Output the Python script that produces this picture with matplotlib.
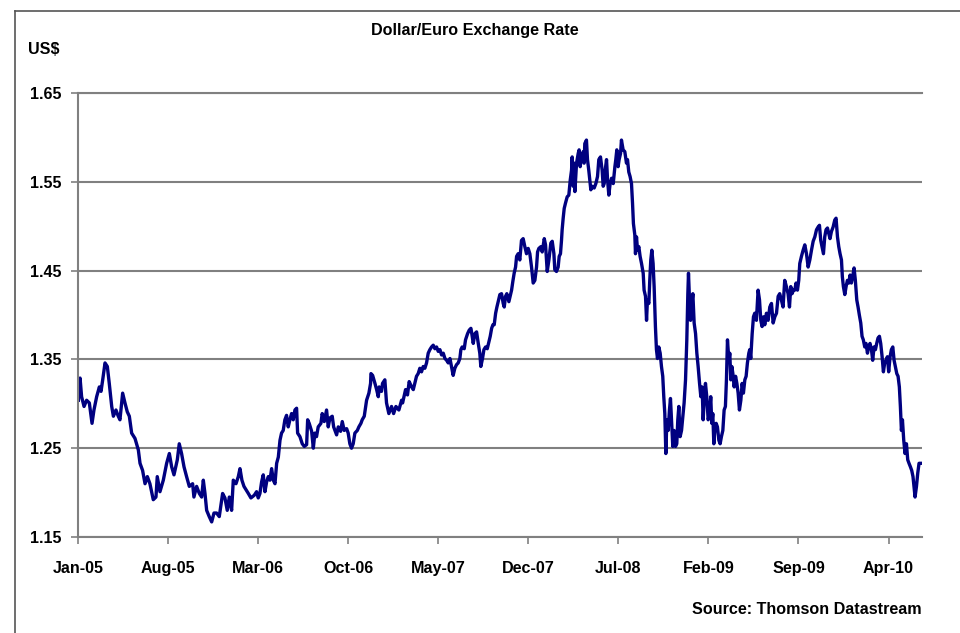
import numpy as np
import matplotlib
matplotlib.use('Agg')
import matplotlib.pyplot as plt
from matplotlib.lines import Line2D

# months since Jan 2005
months = [
    0.03, 0.16, 0.28, 0.47, 0.67, 0.88, 1.09, 1.24, 1.45, 1.66, 1.79, 1.92, 2.10, 2.28, 2.43, 2.62,
    2.75, 2.95, 3.13, 3.26, 3.47, 3.65, 3.83, 3.99, 4.17, 4.43, 4.69, 4.82, 5.02, 5.21, 5.39, 5.59,
    5.85, 6.06, 6.16, 6.37, 6.63, 6.89, 7.10, 7.28, 7.46, 7.72, 7.87, 8.05, 8.24, 8.44, 8.65, 8.91,
    9.01, 9.22, 9.43, 9.61, 9.74, 9.87, 10.00, 10.20, 10.39, 10.57, 10.77, 10.98, 11.24, 11.42, 11.60,
    11.76, 11.94, 12.07, 12.28, 12.46, 12.59, 12.74, 12.90,
    13.24, 13.44, 13.70, 13.88, 14.01, 14.14, 14.27, 14.40, 14.53, 14.66, 14.79, 14.92, 15.05, 15.18,
    15.31, 15.44, 15.57, 15.70, 15.82, 15.95, 16.08, 16.21, 16.34, 16.47, 16.60, 16.73, 16.86, 16.99,
    17.07, 17.25, 17.43, 17.59, 17.77, 17.85, 17.97, 18.16, 18.29, 18.41, 18.54, 18.67, 18.88, 18.98,
    19.14, 19.32, 19.45, 19.58, 19.76, 19.87, 20.10, 20.23, 20.41, 20.54, 20.69, 20.88, 21.00, 21.13,
    21.26, 21.39, 21.52, 21.71, 21.83, 21.99, 22.09, 22.25, 22.43, 22.61, 22.74, 22.77, 22.90, 23.08,
    23.21, 23.34, 23.41, 23.59, 23.67, 23.85, 23.98, 24.16, 24.37, 24.53, 24.71, 24.94, 25.15, 25.23,
    25.46, 25.61, 25.74, 25.93, 26.06,
    26.18, 26.31, 26.44, 26.57, 26.70, 26.83, 26.96, 27.09, 27.22, 27.35, 27.48, 27.61, 27.74, 27.87,
    28.00, 28.13, 28.26, 28.39, 28.52, 28.65, 28.78, 28.91, 29.03, 29.16, 29.29, 29.42, 29.55, 29.68,
    29.76, 29.86, 30.02, 30.12, 30.28, 30.41, 30.54, 30.64, 30.72, 30.85, 30.98, 31.11, 31.23, 31.31,
    31.44, 31.55, 31.68, 31.81, 31.94, 32.04, 32.15, 32.25, 32.35, 32.46, 32.56, 32.66, 32.79, 32.92,
    33.05, 33.13, 33.23, 33.33, 33.49, 33.62, 33.70, 33.80, 33.90, 34.01, 34.09, 34.21, 34.34, 34.47,
    34.60, 34.73, 34.86, 34.99, 35.12, 35.25, 35.38, 35.51, 35.64, 35.72, 35.82, 35.98, 36.08, 36.24,
    36.34, 36.47, 36.60, 36.75, 36.86, 36.99, 37.06, 37.19, 37.32, 37.40, 37.50, 37.58, 37.63, 37.71,
    37.79, 37.89, 38.02, 38.15, 38.26, 38.36, 38.41, 38.49, 38.57, 38.62, 38.75, 38.88, 38.95, 39.03,
    39.14, 39.27, 39.34,
    39.39, 39.52, 39.60, 39.70, 39.78, 39.86, 39.96, 40.12, 40.25, 40.38, 40.48, 40.61, 40.74, 40.82,
    40.90, 41.01, 41.08, 41.16, 41.26, 41.36, 41.47, 41.60, 41.73, 41.80, 41.88, 41.98, 42.06, 42.17,
    42.24, 42.37, 42.50, 42.63, 42.71, 42.81, 42.91, 43.02, 43.10, 43.17, 43.28, 43.33, 43.41, 43.49,
    43.59, 43.69, 43.80, 43.93, 44.00, 44.11, 44.19, 44.26, 44.37, 44.44, 44.52, 44.60, 44.70, 44.78,
    44.88, 44.96, 45.04, 45.14, 45.25, 45.35, 45.45, 45.53, 45.61, 45.69, 45.77, 45.87, 45.97, 46.05,
    46.13, 46.23, 46.33, 46.44, 46.54, 46.62, 46.70, 46.80, 46.91, 47.01, 47.11, 47.22, 47.32, 47.40,
    47.45, 47.53, 47.61, 47.68, 47.79, 47.89, 48.00, 48.10, 48.20, 48.31, 48.41, 48.51, 48.59, 48.67,
    48.77, 48.87, 48.98, 49.08, 49.18, 49.26, 49.34, 49.42, 49.49, 49.60, 49.70, 49.81, 49.91, 50.01,
    50.12, 50.22, 50.32, 50.40, 50.48, 50.59, 50.66, 50.74, 50.82, 50.90, 51.00, 51.11, 51.21, 51.31,
    51.41, 51.52, 51.62, 51.72, 51.83, 51.93, 52.03, 52.14, 52.21, 52.29, 52.40, 52.50,
    52.60, 52.73, 52.86, 52.97, 53.07, 53.17, 53.28, 53.38, 53.51, 53.64, 53.77, 53.90, 54.03, 54.16,
    54.29, 54.42, 54.54, 54.67, 54.80, 54.93, 55.06, 55.19, 55.30, 55.40, 55.50, 55.61, 55.71, 55.81,
    55.92, 56.02, 56.10, 56.23, 56.36, 56.49, 56.62, 56.75, 56.88, 57.01, 57.14, 57.27, 57.40, 57.52,
    57.63, 57.73, 57.83, 57.94, 58.04, 58.14, 58.25, 58.35, 58.45, 58.56, 58.69, 58.82, 58.92, 59.03,
    59.13, 59.23, 59.34, 59.41, 59.49, 59.60, 59.70, 59.80, 59.91, 60.01, 60.11, 60.21, 60.32, 60.42,
    60.53, 60.63, 60.73, 60.84, 60.94, 61.04, 61.15, 61.25, 61.36, 61.46, 61.56, 61.67, 61.77, 61.87,
    61.98, 62.08, 62.18, 62.29, 62.39, 62.50, 62.60, 62.70, 62.81, 62.91, 63.01, 63.12, 63.22, 63.33,
    63.43, 63.53, 63.64, 63.74, 63.84, 63.92, 64.00, 64.08, 64.18, 64.28, 64.39, 64.49, 64.59, 64.70,
    64.80, 64.90, 64.98, 65.06, 65.17, 65.27, 65.37, 65.47,
]

# US$ per euro
rates = [
    1.304, 1.329, 1.308, 1.297, 1.304, 1.301, 1.278, 1.293, 1.308, 1.319, 1.314, 1.327, 1.346, 1.342, 1.323, 1.297,
    1.286, 1.293, 1.286, 1.282, 1.312, 1.301, 1.291, 1.286, 1.267, 1.261, 1.248, 1.233, 1.225, 1.210, 1.218, 1.210,
    1.192, 1.195, 1.218, 1.201, 1.214, 1.233, 1.244, 1.229, 1.220, 1.237, 1.255, 1.244, 1.229, 1.218, 1.207, 1.210,
    1.195, 1.207, 1.199, 1.195, 1.214, 1.199, 1.180, 1.173, 1.167, 1.177, 1.177, 1.173, 1.199, 1.194, 1.180,
    1.195, 1.180, 1.214, 1.210, 1.218, 1.227, 1.214, 1.207,
    1.199, 1.194, 1.197, 1.201, 1.194, 1.199, 1.212, 1.220, 1.201, 1.212, 1.218, 1.214, 1.227, 1.214,
    1.210, 1.233, 1.240, 1.259, 1.267, 1.270, 1.282, 1.287, 1.274, 1.282, 1.289, 1.282, 1.293, 1.295,
    1.267, 1.263, 1.255, 1.252, 1.254, 1.282, 1.278, 1.269, 1.250, 1.267, 1.263, 1.274, 1.278, 1.289,
    1.280, 1.293, 1.274, 1.284, 1.286, 1.274, 1.265, 1.274, 1.269, 1.280, 1.270, 1.272, 1.267, 1.255,
    1.250, 1.255, 1.267, 1.270, 1.274, 1.278, 1.282, 1.286, 1.304, 1.312, 1.323, 1.334, 1.332, 1.323,
    1.316, 1.308, 1.319, 1.314, 1.323, 1.327, 1.301, 1.289, 1.297, 1.289, 1.297, 1.293, 1.304, 1.301,
    1.316, 1.310, 1.325, 1.319, 1.316,
    1.323, 1.331, 1.334, 1.340, 1.336, 1.342, 1.340, 1.346, 1.357, 1.361, 1.364, 1.366, 1.362, 1.364,
    1.359, 1.361, 1.355, 1.357, 1.351, 1.349, 1.346, 1.351, 1.342, 1.332, 1.340, 1.344, 1.346, 1.351,
    1.361, 1.364, 1.362, 1.372, 1.379, 1.383, 1.385, 1.376, 1.368, 1.379, 1.381, 1.368, 1.357, 1.342,
    1.351, 1.361, 1.364, 1.362, 1.370, 1.376, 1.385, 1.389, 1.389, 1.402, 1.409, 1.415, 1.423, 1.424,
    1.413, 1.409, 1.421, 1.424, 1.415, 1.423, 1.428, 1.438, 1.447, 1.454, 1.466, 1.469, 1.462, 1.484,
    1.486, 1.477, 1.469, 1.475, 1.469, 1.454, 1.436, 1.439, 1.454, 1.471, 1.475, 1.477, 1.471, 1.486,
    1.479, 1.449, 1.462, 1.481, 1.483, 1.469, 1.451, 1.449, 1.454, 1.466, 1.469, 1.484, 1.496, 1.509,
    1.520, 1.526, 1.533, 1.535, 1.552, 1.563, 1.578, 1.545, 1.571, 1.539, 1.571, 1.582, 1.586, 1.567,
    1.578, 1.584, 1.571,
    1.593, 1.597, 1.575, 1.563, 1.552, 1.541, 1.545, 1.543, 1.548, 1.556, 1.575, 1.578, 1.563, 1.545,
    1.548, 1.567, 1.575, 1.552, 1.535, 1.548, 1.554, 1.548, 1.567, 1.575, 1.586, 1.567, 1.575, 1.582,
    1.597, 1.586, 1.584, 1.571, 1.575, 1.561, 1.556, 1.548, 1.526, 1.503, 1.490, 1.469, 1.488, 1.473,
    1.477, 1.466, 1.458, 1.447, 1.428, 1.421, 1.394, 1.417, 1.413, 1.439, 1.462, 1.473, 1.458, 1.432,
    1.387, 1.361, 1.351, 1.364, 1.357, 1.342, 1.331, 1.308, 1.289, 1.244, 1.282, 1.270, 1.293, 1.306,
    1.282, 1.252, 1.270, 1.252, 1.255, 1.282, 1.297, 1.263, 1.270, 1.286, 1.301, 1.327, 1.372, 1.424,
    1.447, 1.417, 1.394, 1.409, 1.424, 1.391, 1.379, 1.357, 1.342, 1.323, 1.308, 1.319, 1.282, 1.304,
    1.323, 1.308, 1.282, 1.289, 1.308, 1.278, 1.289, 1.255, 1.270, 1.278, 1.274, 1.259, 1.255, 1.263,
    1.270, 1.293, 1.297, 1.327, 1.372, 1.349, 1.357, 1.327, 1.342, 1.334, 1.319, 1.331, 1.323, 1.312,
    1.293, 1.304, 1.323, 1.312, 1.327, 1.331, 1.346, 1.357, 1.361, 1.351, 1.379, 1.398,
    1.402, 1.394, 1.428, 1.417, 1.394, 1.387, 1.398, 1.389, 1.402, 1.394, 1.409, 1.413, 1.391, 1.398,
    1.402, 1.421, 1.424, 1.417, 1.409, 1.439, 1.432, 1.424, 1.409, 1.432, 1.424, 1.428, 1.428, 1.436,
    1.428, 1.439, 1.458, 1.466, 1.473, 1.479, 1.469, 1.454, 1.462, 1.473, 1.483, 1.488, 1.496, 1.499,
    1.501, 1.484, 1.477, 1.469, 1.488, 1.496, 1.498, 1.492, 1.486, 1.494, 1.499, 1.507, 1.509, 1.488,
    1.477, 1.469, 1.462, 1.443, 1.432, 1.423, 1.432, 1.439, 1.436, 1.445, 1.436, 1.443, 1.453, 1.439,
    1.417, 1.409, 1.400, 1.391, 1.376, 1.372, 1.364, 1.368, 1.357, 1.364, 1.368, 1.361, 1.349, 1.364,
    1.361, 1.368, 1.374, 1.376, 1.368, 1.353, 1.336, 1.346, 1.349, 1.353, 1.336, 1.353, 1.361, 1.364,
    1.349, 1.342, 1.334, 1.331, 1.319, 1.297, 1.270, 1.282, 1.259, 1.244, 1.255, 1.237, 1.233, 1.229,
    1.225, 1.218, 1.207, 1.195, 1.207, 1.222, 1.233, 1.233,
]

tick_labels = ['Jan-05', 'Aug-05', 'Mar-06', 'Oct-06', 'May-07', 'Dec-07',
               'Jul-08', 'Feb-09', 'Sep-09', 'Apr-10']
y_ticks = [1.15, 1.25, 1.35, 1.45, 1.55, 1.65]

plt.rcParams['font.family'] = ['Liberation Sans', 'DejaVu Sans']
plt.rcParams['font.weight'] = 'bold'

grey = '#808080'
fs = 11.6
fig = plt.figure(figsize=(9.6, 6.33), dpi=100)
ax = fig.add_axes([78 / 960, 1 - 537 / 633, 844 / 960, 444 / 633])

ax.plot(months, rates, color='#000080', lw=2.4, solid_joinstyle='round')

ax.set_xlim(0, 65.6)
ax.set_ylim(1.15, 1.65)
ax.set_xticks(np.arange(len(tick_labels)) * 7)
ax.set_xticklabels(tick_labels)
ax.set_yticks(y_ticks)
ax.set_yticklabels([f'{v:.2f}' for v in y_ticks])

ax.yaxis.grid(True, color=grey, lw=1.5)
ax.set_axisbelow(True)
for side in ['left', 'bottom', 'top']:
    ax.spines[side].set_color(grey)
    ax.spines[side].set_linewidth(1.5)
ax.spines['right'].set_visible(False)

ax.tick_params(axis='both', direction='out', length=5, width=1.2, color=grey,
               labelsize=fs, labelcolor='black')
ax.tick_params(axis='y', pad=7)
ax.tick_params(axis='x', pad=12)

fig.text(475 / 960, 1 - 31 / 633, 'Dollar/Euro Exchange Rate', ha='center', va='center',
         fontsize=fs, fontweight='bold')
fig.text(28 / 960, 1 - 50 / 633, 'US$', ha='left', va='center', fontsize=fs, fontweight='bold')
fig.text(922 / 960, 1 - 609 / 633, 'Source: Thomson Datastream', ha='right', va='center',
         fontsize=fs, fontweight='bold')

# chart frame (only left and top edges fall inside the image)
fig.add_artist(Line2D([15 / 960, 15 / 960], [0, 1 - 10.5 / 633], transform=fig.transFigure,
                      color='#555555', lw=1.2))
fig.add_artist(Line2D([15 / 960, 1], [1 - 10.5 / 633, 1 - 10.5 / 633], transform=fig.transFigure,
                      color='#555555', lw=1.2))

fig.savefig('out.png', dpi=100)
